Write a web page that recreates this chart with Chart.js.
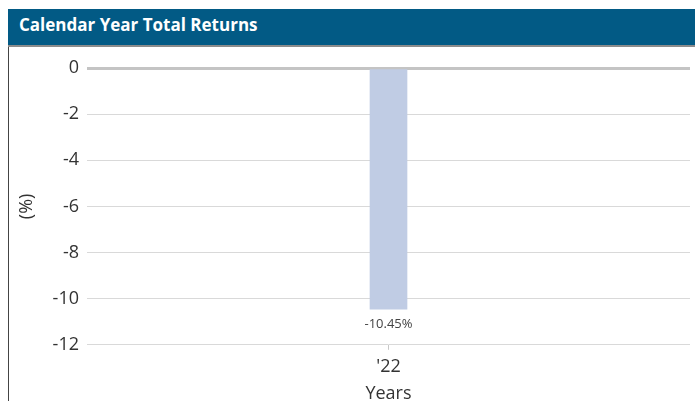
<!DOCTYPE html>
<html>
<head>
<meta charset="utf-8">
<script src="https://cdn.jsdelivr.net/npm/chart.js@4"></script>
<style>
  html, body { margin: 0; padding: 0; background: #fff; width: 695px; height: 401px; overflow: hidden; }
  .header {
    position: absolute; left: 8px; top: 9px; width: 687px; height: 38px;
    background: #025a85; color: #fff;
    font-family: "Open Sans", sans-serif; font-weight: 700; font-size: 17px;
    line-height: 31px; padding-left: 11px; box-sizing: border-box;
    border-bottom: 2px solid #8c8c8c;
  }
  .chartBox {
    position: absolute; left: 8px; top: 47px; width: 687px; height: 380px;
    border-left: 1px solid #444; box-sizing: border-box;
  }
</style>
</head>
<body>
<div class="header">Calendar Year Total Returns</div>
<div class="chartBox"><canvas id="returnsChart"></canvas></div>
<script>
/* ================= DATA ================= */
const years = ["'22"];
const returns = [-10.45];
const yTicks = [0, -2, -4, -6, -8, -10, -12];

/* ================= VALUE LABEL PLUGIN ================= */
const valueLabels = {
  id: "valueLabels",
  afterDatasetsDraw(chart) {
    const ctx = chart.ctx;
    const meta = chart.getDatasetMeta(0);
    ctx.save();
    ctx.font = "13px 'Open Sans', sans-serif";
    ctx.fillStyle = "#444";
    ctx.textAlign = "center";
    ctx.textBaseline = "middle";
    meta.data.forEach((bar, i) => {
      const v = returns[i];
      const y = v < 0 ? bar.y + 15 : bar.y - 15;
      ctx.fillText(v.toFixed(2) + "%", bar.x, y);
    });
    ctx.restore();
  }
};

const ctx = document.getElementById("returnsChart").getContext("2d");
ctx.canvas.width = 686;
ctx.canvas.height = 358;

new Chart(ctx, {
  type: "bar",
  data: {
    labels: years,
    datasets: [{
      data: returns,
      backgroundColor: "#c0cce4",
      barThickness: 37,
      borderSkipped: false
    }]
  },
  options: {
    responsive: false,
    animation: false,
    layout: { padding: { top: 21, right: 5, left: 0, bottom: 0 } },
    plugins: { legend: { display: false }, tooltip: { enabled: false } },
    scales: {
      x: {
        grid: { drawOnChartArea: false, drawTicks: true, tickLength: 5, color: "#c8c8c8", offset: false },
        border: { display: false },
        ticks: { color: "#333", font: { family: "'Open Sans', sans-serif", size: 18 }, padding: 6 },
        title: { display: true, text: "Years", color: "#333", font: { family: "'Open Sans', sans-serif", size: 18 }, padding: { top: 0, bottom: 0 } }
      },
      y: {
        min: Math.min(...yTicks),
        max: Math.max(...yTicks),
        afterBuildTicks(axis) { axis.ticks = yTicks.map(v => ({ value: v })); },
        afterFit(axis) { axis.width = 78; },
        grid: {
          drawTicks: false,
          color: c => c.tick && c.tick.value === 0 ? "#c4c4c4" : "#d9d9d9",
          lineWidth: c => c.tick && c.tick.value === 0 ? 3 : 1
        },
        border: { display: false },
        ticks: { color: "#333", font: { family: "'Open Sans', sans-serif", size: 18 }, padding: 8 },
        title: { display: true, text: "(%)", color: "#333", font: { family: "'Open Sans', sans-serif", size: 18 }, padding: { top: 7, bottom: 0 } }
      }
    }
  },
  plugins: [valueLabels]
});
</script>
</body>
</html>
